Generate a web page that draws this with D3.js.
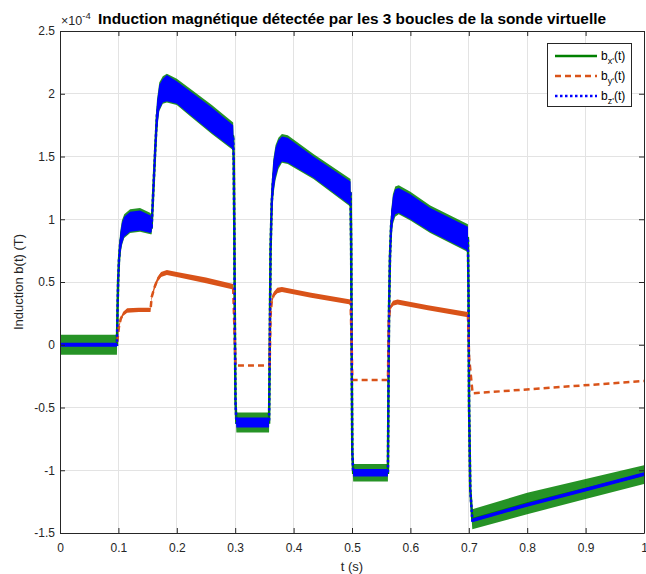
<!DOCTYPE html>
<html><head><meta charset="utf-8">
<script src="https://cdn.jsdelivr.net/npm/d3@7"></script>
<style>body{margin:0;background:#fff}svg{display:block;font-family:"Liberation Sans",Arial,Helvetica,sans-serif}</style>
</head><body><svg id="c" width="646" height="574"></svg>
<script>
// time knots (s) shared by b_x' and b_z'
const tXZ = [0,0.0975,0.0985,0.0995,0.101,0.103,0.106,0.11,0.12,0.137,0.155,0.157,0.16,0.163,0.166,0.17,0.176,0.183,0.2,0.223,0.26,0.2965,0.2975,0.2985,0.2995,0.3005,0.302,0.33,0.358,0.359,0.3605,0.3625,0.365,0.369,0.374,0.38,0.39,0.434,0.4975,0.4985,0.4995,0.5005,0.502,0.53,0.5615,0.5625,0.5635,0.565,0.567,0.57,0.574,0.58,0.6,0.634,0.6985,0.6995,0.7005,0.7025,0.706,0.8,0.9,1.0];
// b_z' envelope (×1e-4 T)
const bzHi = [0.015,0.015,0.3,0.55,0.75,0.88,0.97,1.02,1.06,1.07,1.03,1.0,1.35,1.65,1.93,2.07,2.12,2.15,2.1,2.02,1.89,1.75,1.6,1.0,0.2,-0.4,-0.58,-0.58,-0.58,0.0,0.9,1.25,1.45,1.57,1.63,1.66,1.65,1.5,1.3,0.9,0.0,-0.8,-0.99,-0.99,-0.99,-0.2,0.4,0.8,1.05,1.18,1.24,1.25,1.2,1.09,0.94,0.5,-0.4,-1.1,-1.385,-1.26,-1.14,-1.015];
const bzLo = [-0.015,-0.015,0.25,0.45,0.6,0.72,0.8,0.86,0.9,0.91,0.89,0.9,1.15,1.45,1.72,1.87,1.93,1.94,1.92,1.83,1.69,1.56,1.3,0.8,0.0,-0.5,-0.66,-0.66,-0.66,-0.2,0.6,1.0,1.2,1.33,1.42,1.46,1.45,1.33,1.11,0.7,-0.2,-0.9,-1.05,-1.05,-1.05,-0.4,0.2,0.6,0.85,0.98,1.04,1.05,1.0,0.9,0.75,0.3,-0.6,-1.2,-1.415,-1.29,-1.17,-1.045];
// b_x' envelope (×1e-4 T)
const bxHi = [0.08,0.08,0.32,0.57,0.77,0.9,0.99,1.04,1.08,1.09,1.05,1.02,1.37,1.67,1.95,2.09,2.14,2.16,2.12,2.04,1.91,1.77,1.62,1.02,0.22,-0.38,-0.54,-0.54,-0.54,0.02,0.92,1.27,1.47,1.59,1.65,1.68,1.67,1.52,1.32,0.92,0.02,-0.78,-0.95,-0.95,-0.95,-0.18,0.42,0.82,1.07,1.2,1.26,1.27,1.22,1.11,0.96,0.52,-0.38,-1.08,-1.31,-1.18,-1.07,-0.96];
const bxLo = [-0.08,-0.08,0.22,0.43,0.58,0.7,0.79,0.85,0.89,0.9,0.88,0.88,1.13,1.43,1.7,1.86,1.92,1.93,1.91,1.82,1.68,1.55,1.28,0.78,-0.02,-0.52,-0.7,-0.7,-0.7,-0.22,0.58,0.98,1.18,1.31,1.4,1.45,1.44,1.32,1.1,0.68,-0.22,-0.92,-1.09,-1.09,-1.09,-0.42,0.18,0.58,0.83,0.96,1.02,1.04,0.99,0.89,0.74,0.28,-0.62,-1.22,-1.47,-1.35,-1.23,-1.11];
// b_y' (×1e-4 T)
const tY  = [0,0.0975,0.099,0.101,0.104,0.108,0.115,0.135,0.155,0.157,0.162,0.167,0.173,0.183,0.2,0.25,0.2965,0.2985,0.3005,0.359,0.3605,0.3625,0.366,0.372,0.38,0.43,0.4975,0.4995,0.5005,0.5615,0.563,0.565,0.57,0.578,0.63,0.6985,0.7005,0.7065,1.0];
const byHi = [0,0,0.08,0.16,0.22,0.26,0.29,0.295,0.295,0.4,0.48,0.54,0.58,0.595,0.58,0.535,0.485,0.15,-0.165,-0.165,0.25,0.36,0.42,0.455,0.46,0.415,0.36,0.0,-0.28,-0.28,0.2,0.3,0.35,0.36,0.315,0.26,-0.1,-0.387,-0.289];
const byLo = [0,0,0.05,0.13,0.19,0.23,0.255,0.26,0.26,0.36,0.44,0.5,0.54,0.555,0.54,0.49,0.44,0.15,-0.165,-0.165,0.22,0.32,0.38,0.41,0.42,0.375,0.32,0.0,-0.28,-0.28,0.18,0.27,0.31,0.32,0.275,0.22,-0.1,-0.387,-0.289];

const xTicks = [0,0.1,0.2,0.3,0.4,0.5,0.6,0.7,0.8,0.9,1];
const yTicks = [-1.5,-1,-0.5,0,0.5,1,1.5,2,2.5];
const legendSubs = ["x'","y'","z'"];
const colors = {x:"#008000", y:"#D95319", z:"#0000FF"};

const svg = d3.select("#c");
const L=60, R=644, T=31, B=533;
const x = d3.scaleLinear().domain([0,1]).range([L,R]);
const y = d3.scaleLinear().domain([-1.5,2.5]).range([B,T]);
const fmt = d => String(d);
const axisCol = "#262626";

// grid
const g = svg.append("g");
g.selectAll("line.gx").data(xTicks).join("line").attr("x1",d=>x(d)).attr("x2",d=>x(d)).attr("y1",T).attr("y2",B).attr("stroke","#e3e3e3").attr("stroke-width",1).attr("shape-rendering","crispEdges");
g.selectAll("line.gy").data(yTicks).join("line").attr("y1",d=>y(d)).attr("y2",d=>y(d)).attr("x1",L).attr("x2",R).attr("stroke","#e3e3e3").attr("stroke-width",1).attr("shape-rendering","crispEdges");

svg.append("clipPath").attr("id","clip").append("rect").attr("x",L).attr("y",T).attr("width",R-L).attr("height",B-T);
const plot = svg.append("g").attr("clip-path","url(#clip)");

function band(t, hi, lo){ return d3.area().x((d,i)=>x(t[i])).y0((d,i)=>y(lo[i])).y1((d,i)=>y(hi[i]))(t); }
function mid(t, hi, lo){ return d3.line().x((d,i)=>x(t[i])).y((d,i)=>y((hi[i]+lo[i])/2))(t); }

// b_x'
plot.append("path").attr("d",band(tXZ,bxHi,bxLo)).attr("fill",colors.x).attr("fill-opacity",0.85);
plot.append("path").attr("d",mid(tXZ,bxHi,bxLo)).attr("fill","none").attr("stroke",colors.x).attr("stroke-width",2.5);
// b_y'
plot.append("path").attr("d",band(tY,byHi,byLo)).attr("fill",colors.y);
plot.append("path").attr("d",mid(tY,byHi,byLo)).attr("fill","none").attr("stroke",colors.y).attr("stroke-width",2.5).attr("stroke-dasharray","6,4");
// b_z'
plot.append("path").attr("d",band(tXZ,bzHi,bzLo)).attr("fill",colors.z);
plot.append("path").attr("d",mid(tXZ,bzHi,bzLo)).attr("fill","none").attr("stroke",colors.z).attr("stroke-width",2.5).attr("stroke-dasharray","2.5,2.5");

// axes
const axBottom = d3.axisBottom(x).tickValues(xTicks).tickFormat(fmt).tickSize(-5).tickSizeOuter(0).tickPadding(10);
const axTop = d3.axisTop(x).tickValues(xTicks).tickFormat("").tickSize(-5).tickSizeOuter(0);
const axLeft = d3.axisLeft(y).tickValues(yTicks).tickFormat(fmt).tickSize(-5).tickSizeOuter(0).tickPadding(5);
const axRight = d3.axisRight(y).tickValues(yTicks).tickFormat("").tickSize(-5).tickSizeOuter(0);
function style(sel){ sel.attr("font-family",null).attr("font-size",12); sel.select(".domain").attr("stroke",axisCol); sel.selectAll(".tick line").attr("stroke",axisCol); sel.selectAll(".tick text").attr("fill",axisCol); }
svg.append("g").attr("transform",`translate(0,${B})`).call(axBottom).call(style);
svg.append("g").attr("transform",`translate(0,${T})`).call(axTop).call(style);
svg.append("g").attr("transform",`translate(${L},0)`).call(axLeft).call(style);
svg.append("g").attr("transform",`translate(${R},0)`).call(axRight).call(style);

// exponent
const ex = svg.append("text").attr("x",61).attr("y",25).attr("font-size",12.5).attr("fill",axisCol);
ex.append("tspan").text("\u00d710");
ex.append("tspan").attr("dy",-6).attr("font-size",9.5).text("-4");

// title
svg.append("text").attr("x",(L+R)/2).attr("y",24).attr("text-anchor","middle").attr("font-weight","bold").attr("font-size",15.4).attr("fill","#000").text("Induction magnétique détectée par les 3 boucles de la sonde virtuelle");

// axis labels
svg.append("text").attr("x",(L+R)/2).attr("y",571).attr("text-anchor","middle").attr("font-size",13).attr("fill",axisCol).text("t (s)");
svg.append("text").attr("transform",`translate(23,${(T+B)/2}) rotate(-90)`).attr("text-anchor","middle").attr("font-size",13).attr("fill",axisCol).text("Induction b(t) (T)");

// legend
const lg = svg.append("g");
lg.append("rect").attr("x",547.5).attr("y",43.5).attr("width",84).attr("height",63).attr("fill","#fff").attr("stroke",axisCol).attr("stroke-width",1);
const keys = ["x","y","z"];
const dash = {x:null,y:"6,4",z:"2.5,2.5"};
keys.forEach((k,i)=>{
  const yy = 56 + i*20;
  lg.append("line").attr("x1",555).attr("x2",597).attr("y1",yy).attr("y2",yy).attr("stroke",colors[k]).attr("stroke-width",2.5).attr("stroke-dasharray",dash[k]);
  const tx = lg.append("text").attr("x",601).attr("y",yy+4).attr("font-size",12).attr("fill","#000");
  tx.append("tspan").text("b");
  tx.append("tspan").attr("dy",4).attr("font-size",9).text(legendSubs[i]);
  tx.append("tspan").attr("dy",-4).attr("font-size",12).text("(t)");
});
</script></body></html>
